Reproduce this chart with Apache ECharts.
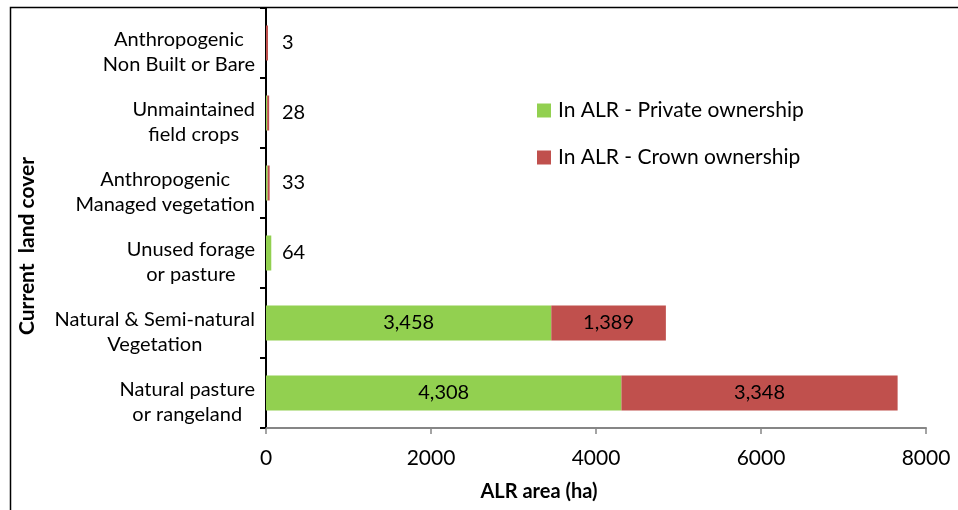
<!DOCTYPE html>
<html>
<head>
<meta charset="utf-8">
<script src="https://cdn.jsdelivr.net/npm/echarts@6/dist/echarts.min.js"></script>
<style>
html,body{margin:0;padding:0;background:#fff;}
#chart{width:958px;height:510px;}
</style>
</head>
<body>
<div id="chart"></div>
<script>
// Categories listed bottom to top (ECharts category y-axis runs upward)
var categories = [
  'Natural pasture\nor rangeland',
  'Natural & Semi-natural\nVegetation',
  'Unused forage\nor pasture',
  'Anthropogenic\nManaged vegetation',
  'Unmaintained\nfield crops',
  'Anthropogenic\nNon Built or Bare'
];
var privateOwnership = [4308, 3458, 64, 20, 14, null];
var crownOwnership   = [3348, 1389, null, 13, 14, 3];
var smallTotals      = [null, null, 64, 33, 28, 3];
var xTicks = [0, 2000, 4000, 6000, 8000];

var FONT = 'Lato';
var chart = echarts.init(document.getElementById('chart'));

function fmt(v){ return Number(v).toLocaleString('en-US'); }

var option = {
  animation: false,
  textStyle: { fontFamily: FONT },
  graphic: [{
    type: 'rect', left: 8, top: 5, z: 100,
    shape: { x: 0, y: 0, width: 1000, height: 600 },
    style: { fill: 'none', stroke: '#000', lineWidth: 1.5 }
  }],
  legend: {
    orient: 'vertical',
    left: 532, top: 95,
    itemWidth: 14, itemHeight: 14, itemGap: 26,
    icon: 'rect',
    data: ['In ALR - Private ownership', 'In ALR - Crown ownership'],
    textStyle: { fontFamily: FONT, fontSize: 21, color: '#000', padding: [0,0,0,2] }
  },
  grid: { left: 266, top: 8, right: 32, bottom: 82, containLabel: false },
  xAxis: {
    type: 'value',
    min: xTicks[0], max: xTicks[xTicks.length-1], interval: 2000,
    name: 'ALR area (ha)', nameLocation: 'middle', nameGap: 54,
    nameTextStyle: { fontFamily: FONT, fontSize: 20, fontWeight: 'bold', color: '#000', padding: [0, 114, 0, 0] },
    axisLine: { show: true, lineStyle: { color: '#868686', width: 2 } },
    axisTick: { show: true, inside: false, length: 6, lineStyle: { color: '#868686', width: 1.5 } },
    axisLabel: { fontFamily: FONT, fontSize: 21, color: '#000', margin: 20,
      formatter: function(v){ return String(v); } },
    splitLine: { show: false }
  },
  yAxis: {
    type: 'category',
    data: categories,
    boundaryGap: true,
    name: 'Current  land cover', nameLocation: 'middle', nameGap: 228, nameRotate: 90,
    nameTextStyle: { fontFamily: FONT, fontSize: 21, fontWeight: 'bold', color: '#000', padding: [0, 56, 0, 0] },
    axisLine: { show: true, lineStyle: { color: '#000', width: 2 } },
    axisTick: { show: true, length: 6, alignWithLabel: false, lineStyle: { color: '#000', width: 2 } },
    axisLabel: {
      margin: 11, align: 'right', color: '#000', fontFamily: FONT, fontSize: 20, lineHeight: 25,
      padding: [18, 0, 0, 0],
      formatter: function(v){ return v.split('\n').map(function(s){ return '{c|' + s + '}'; }).join('\n'); },
      rich: { c: { align: 'center', fontFamily: FONT, fontSize: 20, lineHeight: 25, color: '#000' } }
    }
  },
  series: [
    {
      name: 'In ALR - Private ownership', type: 'bar', stack: 'alr',
      barCategoryGap: '50%',
      itemStyle: { color: '#92D050' },
      label: { show: true, position: 'inside', fontFamily: FONT, fontSize: 20, color: '#000',
        formatter: function(p){ return p.value >= 500 ? fmt(p.value) : ''; } },
      data: privateOwnership
    },
    {
      name: 'In ALR - Crown ownership', type: 'bar', stack: 'alr',
      barMinHeight: 2,
      itemStyle: { color: '#C0504D' },
      label: { show: true, position: 'inside', fontFamily: FONT, fontSize: 20, color: '#000',
        formatter: function(p){ return p.value >= 500 ? fmt(p.value) : ''; } },
      data: crownOwnership
    },
    {
      name: 'totals', type: 'scatter', symbolSize: 0, silent: true,
      itemStyle: { color: '#000', opacity: 1 },
      label: { show: true, position: 'right', distance: 16, fontFamily: FONT, fontSize: 20, color: '#000', opacity: 1,
        padding: [4, 0, 0, 0],
        formatter: function(p){ return fmt(p.data.t); } },
      data: smallTotals.map(function(t, i){ return t === null ? null : { value: [0, i], t: t }; }).filter(function(d){ return d; })
    }
  ]
};
chart.setOption(option);
</script>
</body>
</html>
